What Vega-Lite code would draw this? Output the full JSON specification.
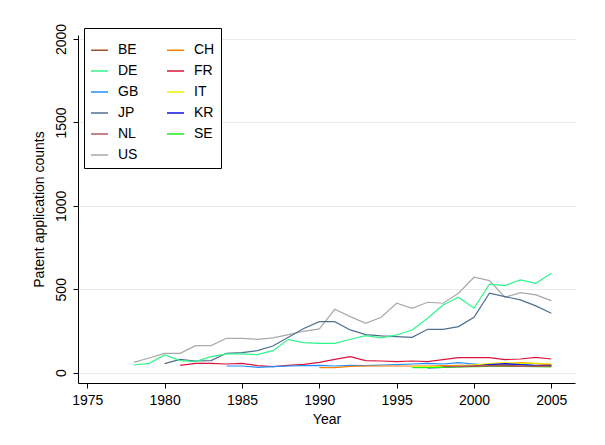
{
  "$schema": "https://vega.github.io/schema/vega-lite/v6.json",
  "width": 497,
  "height": 348,
  "autosize": {"type": "none"},
  "padding": {"left": 78, "top": 35, "right": 30, "bottom": 62},
  "background": "white",
  "config": {"view": {"stroke": null}, "font": "Liberation Sans"},
  "datasets": {
    "patents": [
      {"country": "US", "year": 1978, "count": 62}, {"country": "US", "year": 1979, "count": 88}, {"country": "US", "year": 1980, "count": 116}, {"country": "US", "year": 1981, "count": 116}, {"country": "US", "year": 1982, "count": 162}, {"country": "US", "year": 1983, "count": 162}, {"country": "US", "year": 1984, "count": 206}, {"country": "US", "year": 1985, "count": 206}, {"country": "US", "year": 1986, "count": 200}, {"country": "US", "year": 1987, "count": 208}, {"country": "US", "year": 1988, "count": 228}, {"country": "US", "year": 1989, "count": 248}, {"country": "US", "year": 1990, "count": 262}, {"country": "US", "year": 1991, "count": 380}, {"country": "US", "year": 1992, "count": 336}, {"country": "US", "year": 1993, "count": 296}, {"country": "US", "year": 1994, "count": 332}, {"country": "US", "year": 1995, "count": 416}, {"country": "US", "year": 1996, "count": 386}, {"country": "US", "year": 1997, "count": 422}, {"country": "US", "year": 1998, "count": 416}, {"country": "US", "year": 1999, "count": 476}, {"country": "US", "year": 2000, "count": 572}, {"country": "US", "year": 2001, "count": 552}, {"country": "US", "year": 2002, "count": 452}, {"country": "US", "year": 2003, "count": 480}, {"country": "US", "year": 2004, "count": 466}, {"country": "US", "year": 2005, "count": 432},
      {"country": "JP", "year": 1980, "count": 54}, {"country": "JP", "year": 1981, "count": 80}, {"country": "JP", "year": 1982, "count": 70}, {"country": "JP", "year": 1983, "count": 72}, {"country": "JP", "year": 1984, "count": 116}, {"country": "JP", "year": 1985, "count": 120}, {"country": "JP", "year": 1986, "count": 132}, {"country": "JP", "year": 1987, "count": 160}, {"country": "JP", "year": 1988, "count": 212}, {"country": "JP", "year": 1989, "count": 265}, {"country": "JP", "year": 1990, "count": 306}, {"country": "JP", "year": 1991, "count": 306}, {"country": "JP", "year": 1992, "count": 256}, {"country": "JP", "year": 1993, "count": 228}, {"country": "JP", "year": 1994, "count": 220}, {"country": "JP", "year": 1995, "count": 216}, {"country": "JP", "year": 1996, "count": 212}, {"country": "JP", "year": 1997, "count": 260}, {"country": "JP", "year": 1998, "count": 260}, {"country": "JP", "year": 1999, "count": 276}, {"country": "JP", "year": 2000, "count": 332}, {"country": "JP", "year": 2001, "count": 476}, {"country": "JP", "year": 2002, "count": 456}, {"country": "JP", "year": 2003, "count": 436}, {"country": "JP", "year": 2004, "count": 400}, {"country": "JP", "year": 2005, "count": 356},
      {"country": "DE", "year": 1978, "count": 46}, {"country": "DE", "year": 1979, "count": 56}, {"country": "DE", "year": 1980, "count": 106}, {"country": "DE", "year": 1981, "count": 72}, {"country": "DE", "year": 1982, "count": 66}, {"country": "DE", "year": 1983, "count": 96}, {"country": "DE", "year": 1984, "count": 112}, {"country": "DE", "year": 1985, "count": 112}, {"country": "DE", "year": 1986, "count": 108}, {"country": "DE", "year": 1987, "count": 132}, {"country": "DE", "year": 1988, "count": 198}, {"country": "DE", "year": 1989, "count": 180}, {"country": "DE", "year": 1990, "count": 176}, {"country": "DE", "year": 1991, "count": 176}, {"country": "DE", "year": 1992, "count": 200}, {"country": "DE", "year": 1993, "count": 222}, {"country": "DE", "year": 1994, "count": 208}, {"country": "DE", "year": 1995, "count": 226}, {"country": "DE", "year": 1996, "count": 256}, {"country": "DE", "year": 1997, "count": 326}, {"country": "DE", "year": 1998, "count": 406}, {"country": "DE", "year": 1999, "count": 452}, {"country": "DE", "year": 2000, "count": 386}, {"country": "DE", "year": 2001, "count": 530}, {"country": "DE", "year": 2002, "count": 522}, {"country": "DE", "year": 2003, "count": 556}, {"country": "DE", "year": 2004, "count": 536}, {"country": "DE", "year": 2005, "count": 596},
      {"country": "FR", "year": 1981, "count": 44}, {"country": "FR", "year": 1982, "count": 56}, {"country": "FR", "year": 1983, "count": 56}, {"country": "FR", "year": 1984, "count": 52}, {"country": "FR", "year": 1985, "count": 56}, {"country": "FR", "year": 1986, "count": 42}, {"country": "FR", "year": 1987, "count": 36}, {"country": "FR", "year": 1988, "count": 44}, {"country": "FR", "year": 1989, "count": 50}, {"country": "FR", "year": 1990, "count": 62}, {"country": "FR", "year": 1991, "count": 80}, {"country": "FR", "year": 1992, "count": 96}, {"country": "FR", "year": 1993, "count": 72}, {"country": "FR", "year": 1994, "count": 70}, {"country": "FR", "year": 1995, "count": 66}, {"country": "FR", "year": 1996, "count": 70}, {"country": "FR", "year": 1997, "count": 66}, {"country": "FR", "year": 1998, "count": 78}, {"country": "FR", "year": 1999, "count": 90}, {"country": "FR", "year": 2000, "count": 90}, {"country": "FR", "year": 2001, "count": 90}, {"country": "FR", "year": 2002, "count": 78}, {"country": "FR", "year": 2003, "count": 82}, {"country": "FR", "year": 2004, "count": 92}, {"country": "FR", "year": 2005, "count": 82},
      {"country": "GB", "year": 1984, "count": 40}, {"country": "GB", "year": 1985, "count": 40}, {"country": "GB", "year": 1986, "count": 32}, {"country": "GB", "year": 1987, "count": 36}, {"country": "GB", "year": 1988, "count": 40}, {"country": "GB", "year": 1989, "count": 42}, {"country": "GB", "year": 1990, "count": 44}, {"country": "GB", "year": 1991, "count": 40}, {"country": "GB", "year": 1992, "count": 44}, {"country": "GB", "year": 1993, "count": 42}, {"country": "GB", "year": 1994, "count": 46}, {"country": "GB", "year": 1995, "count": 48}, {"country": "GB", "year": 1996, "count": 52}, {"country": "GB", "year": 1997, "count": 56}, {"country": "GB", "year": 1998, "count": 52}, {"country": "GB", "year": 1999, "count": 60}, {"country": "GB", "year": 2000, "count": 52}, {"country": "GB", "year": 2001, "count": 46}, {"country": "GB", "year": 2002, "count": 48}, {"country": "GB", "year": 2003, "count": 50}, {"country": "GB", "year": 2004, "count": 44}, {"country": "GB", "year": 2005, "count": 46},
      {"country": "CH", "year": 1990, "count": 30}, {"country": "CH", "year": 1991, "count": 30}, {"country": "CH", "year": 1992, "count": 38}, {"country": "CH", "year": 1993, "count": 40}, {"country": "CH", "year": 1994, "count": 40}, {"country": "CH", "year": 1995, "count": 40}, {"country": "CH", "year": 1996, "count": 40}, {"country": "CH", "year": 1997, "count": 40}, {"country": "CH", "year": 1998, "count": 42}, {"country": "CH", "year": 1999, "count": 44}, {"country": "CH", "year": 2000, "count": 46}, {"country": "CH", "year": 2001, "count": 52}, {"country": "CH", "year": 2002, "count": 52}, {"country": "CH", "year": 2003, "count": 60}, {"country": "CH", "year": 2004, "count": 54}, {"country": "CH", "year": 2005, "count": 48},
      {"country": "IT", "year": 1996, "count": 34}, {"country": "IT", "year": 1997, "count": 36}, {"country": "IT", "year": 1998, "count": 36}, {"country": "IT", "year": 1999, "count": 40}, {"country": "IT", "year": 2000, "count": 46}, {"country": "IT", "year": 2001, "count": 54}, {"country": "IT", "year": 2002, "count": 60}, {"country": "IT", "year": 2003, "count": 56}, {"country": "IT", "year": 2004, "count": 58}, {"country": "IT", "year": 2005, "count": 52},
      {"country": "KR", "year": 1997, "count": 28}, {"country": "KR", "year": 1998, "count": 32}, {"country": "KR", "year": 1999, "count": 36}, {"country": "KR", "year": 2000, "count": 40}, {"country": "KR", "year": 2001, "count": 48}, {"country": "KR", "year": 2002, "count": 54}, {"country": "KR", "year": 2003, "count": 48}, {"country": "KR", "year": 2004, "count": 42}, {"country": "KR", "year": 2005, "count": 44},
      {"country": "SE", "year": 1996, "count": 30}, {"country": "SE", "year": 1997, "count": 30}, {"country": "SE", "year": 1998, "count": 32}, {"country": "SE", "year": 1999, "count": 34}, {"country": "SE", "year": 2000, "count": 36}, {"country": "SE", "year": 2001, "count": 38}, {"country": "SE", "year": 2002, "count": 38}, {"country": "SE", "year": 2003, "count": 38}, {"country": "SE", "year": 2004, "count": 36}, {"country": "SE", "year": 2005, "count": 34},
      {"country": "BE", "year": 1999, "count": 36}, {"country": "BE", "year": 2000, "count": 38}, {"country": "BE", "year": 2001, "count": 42}, {"country": "BE", "year": 2002, "count": 44}, {"country": "BE", "year": 2003, "count": 40}, {"country": "BE", "year": 2004, "count": 38}, {"country": "BE", "year": 2005, "count": 40},
      {"country": "NL", "year": 1998, "count": 36}, {"country": "NL", "year": 1999, "count": 38}, {"country": "NL", "year": 2000, "count": 40}, {"country": "NL", "year": 2001, "count": 42}, {"country": "NL", "year": 2002, "count": 40}, {"country": "NL", "year": 2003, "count": 38}, {"country": "NL", "year": 2004, "count": 40}, {"country": "NL", "year": 2005, "count": 38}
    ]
  },
  "data": {"name": "patents"},
  "mark": {"type": "line", "strokeWidth": 1.2},
  "encoding": {
    "x": {
      "field": "year",
      "type": "quantitative",
      "scale": {"domain": [1974.4, 2006.53], "nice": false, "zero": false},
      "axis": {
        "values": [1975, 1980, 1985, 1990, 1995, 2000, 2005],
        "format": "d",
        "title": "Year",
        "grid": false,
        "domainColor": "#000000",
        "tickColor": "#000000",
        "tickSize": 5,
        "labelFontSize": 14,
        "labelColor": "#000000",
        "labelPadding": 5,
        "titleFontSize": 14,
        "titleFontWeight": "normal",
        "titleColor": "#000000",
        "titlePadding": 5
      }
    },
    "y": {
      "field": "count",
      "type": "quantitative",
      "scale": {"domain": [-62, 2024], "nice": false, "zero": false},
      "axis": {
        "values": [0, 500, 1000, 1500, 2000],
        "format": "d",
        "title": "Patent application counts",
        "grid": true,
        "gridColor": "#e4ecef",
        "gridWidth": 1,
        "domainColor": "#000000",
        "tickColor": "#000000",
        "tickSize": 5,
        "labelAngle": -90,
        "labelAlign": "center",
        "labelBaseline": "bottom",
        "labelFontSize": 14,
        "labelColor": "#000000",
        "labelPadding": 5,
        "titleFontSize": 14,
        "titleFontWeight": "normal",
        "titleColor": "#000000",
        "titlePadding": 8
      }
    },
    "color": {
      "field": "country",
      "type": "nominal",
      "scale": {
        "domain": ["BE", "DE", "GB", "JP", "NL", "US", "CH", "FR", "IT", "KR", "SE"],
        "range": ["#a0522d", "#2ef58c", "#1e90ff", "#4f6f8f", "#b05a5a", "#a9a9a9", "#ff8000", "#dc143c", "#f2f200", "#1010f0", "#22ee22"]
      },
      "legend": {
        "orient": "none",
        "legendX": 6,
        "legendY": -7,
        "columns": 2,
        "title": " ",
        "titleFontSize": 6.5,
        "titlePadding": 0,
        "symbolType": "stroke",
        "symbolSize": 289,
        "symbolStrokeWidth": 1.5,
        "labelFontSize": 14,
        "labelColor": "#000000",
        "labelOffset": 9,
        "rowPadding": 4,
        "columnPadding": 25,
        "padding": 6,
        "strokeColor": "#000000",
        "fillColor": "#ffffff",
        "cornerRadius": 0
      }
    }
  }
}
